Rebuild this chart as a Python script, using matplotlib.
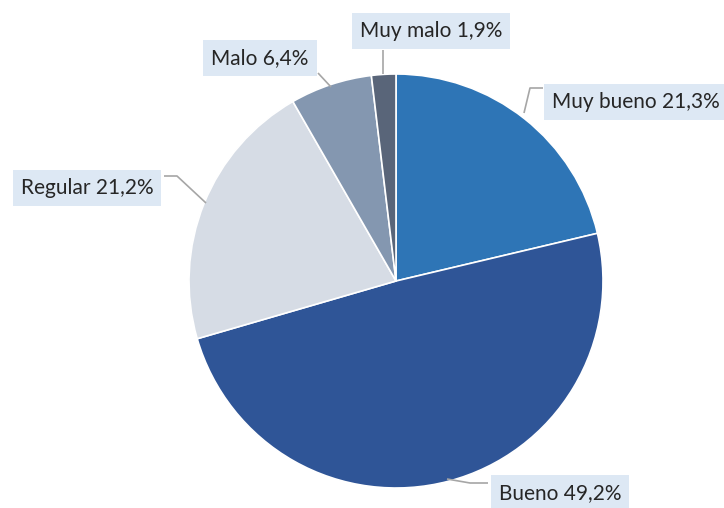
import matplotlib
matplotlib.use("Agg")
import matplotlib.pyplot as plt

categories = ["Muy bueno", "Bueno", "Regular", "Malo", "Muy malo"]
values = [21.3, 49.2, 21.2, 6.4, 1.9]
colors = ["#2e75b6", "#2f5597", "#d6dce5", "#8497b0", "#596579"]
labels = [f"{c} {str(v).replace('.', ',')}%" for c, v in zip(categories, values)]

H = 508
fig = plt.figure(figsize=(7.24, 5.08), dpi=100)
ax = fig.add_axes([0, 0, 1, 1])

ax.pie(values, colors=colors, startangle=90, counterclock=False,
       center=(396, H - 281), radius=207, frame=True,
       wedgeprops=dict(edgecolor="white", linewidth=1.2))
ax.set_xlim(0, 724)
ax.set_ylim(0, H)
ax.set_aspect("equal")
ax.axis("off")

# label positions (pixel coords, y from top) and leader lines
label_pos = {
    "Muy bueno": (552, 102, "left"),
    "Bueno": (560, 493, "center"),
    "Regular": (87, 188, "center"),
    "Malo": (260, 58, "center"),
    "Muy malo": (431, 31, "center"),
}
leaders = {
    "Muy bueno": [(543, 88), (530, 88), (524, 113)],
    "Bueno": [(488, 483), (470, 483), (447, 479)],
    "Regular": [(164, 176), (177, 176), (206, 203)],
    "Malo": [(318, 73), (331, 87)],
    "Muy malo": [(383, 50), (383, 74)],
}
for cat, lab in zip(categories, labels):
    pts = leaders[cat]
    ax.plot([p[0] for p in pts], [H - p[1] for p in pts], color="#a6a6a6", lw=1.2,
            solid_capstyle="butt", zorder=1)
    x, y, ha = label_pos[cat]
    ax.text(x, H - y, lab, ha=ha, va="center", fontsize=15, family="Lato",
            color="#262626", zorder=5,
            bbox=dict(boxstyle="square,pad=0.38", fc="#dde8f4", ec="none"))

fig.savefig("out.png", dpi=100)
